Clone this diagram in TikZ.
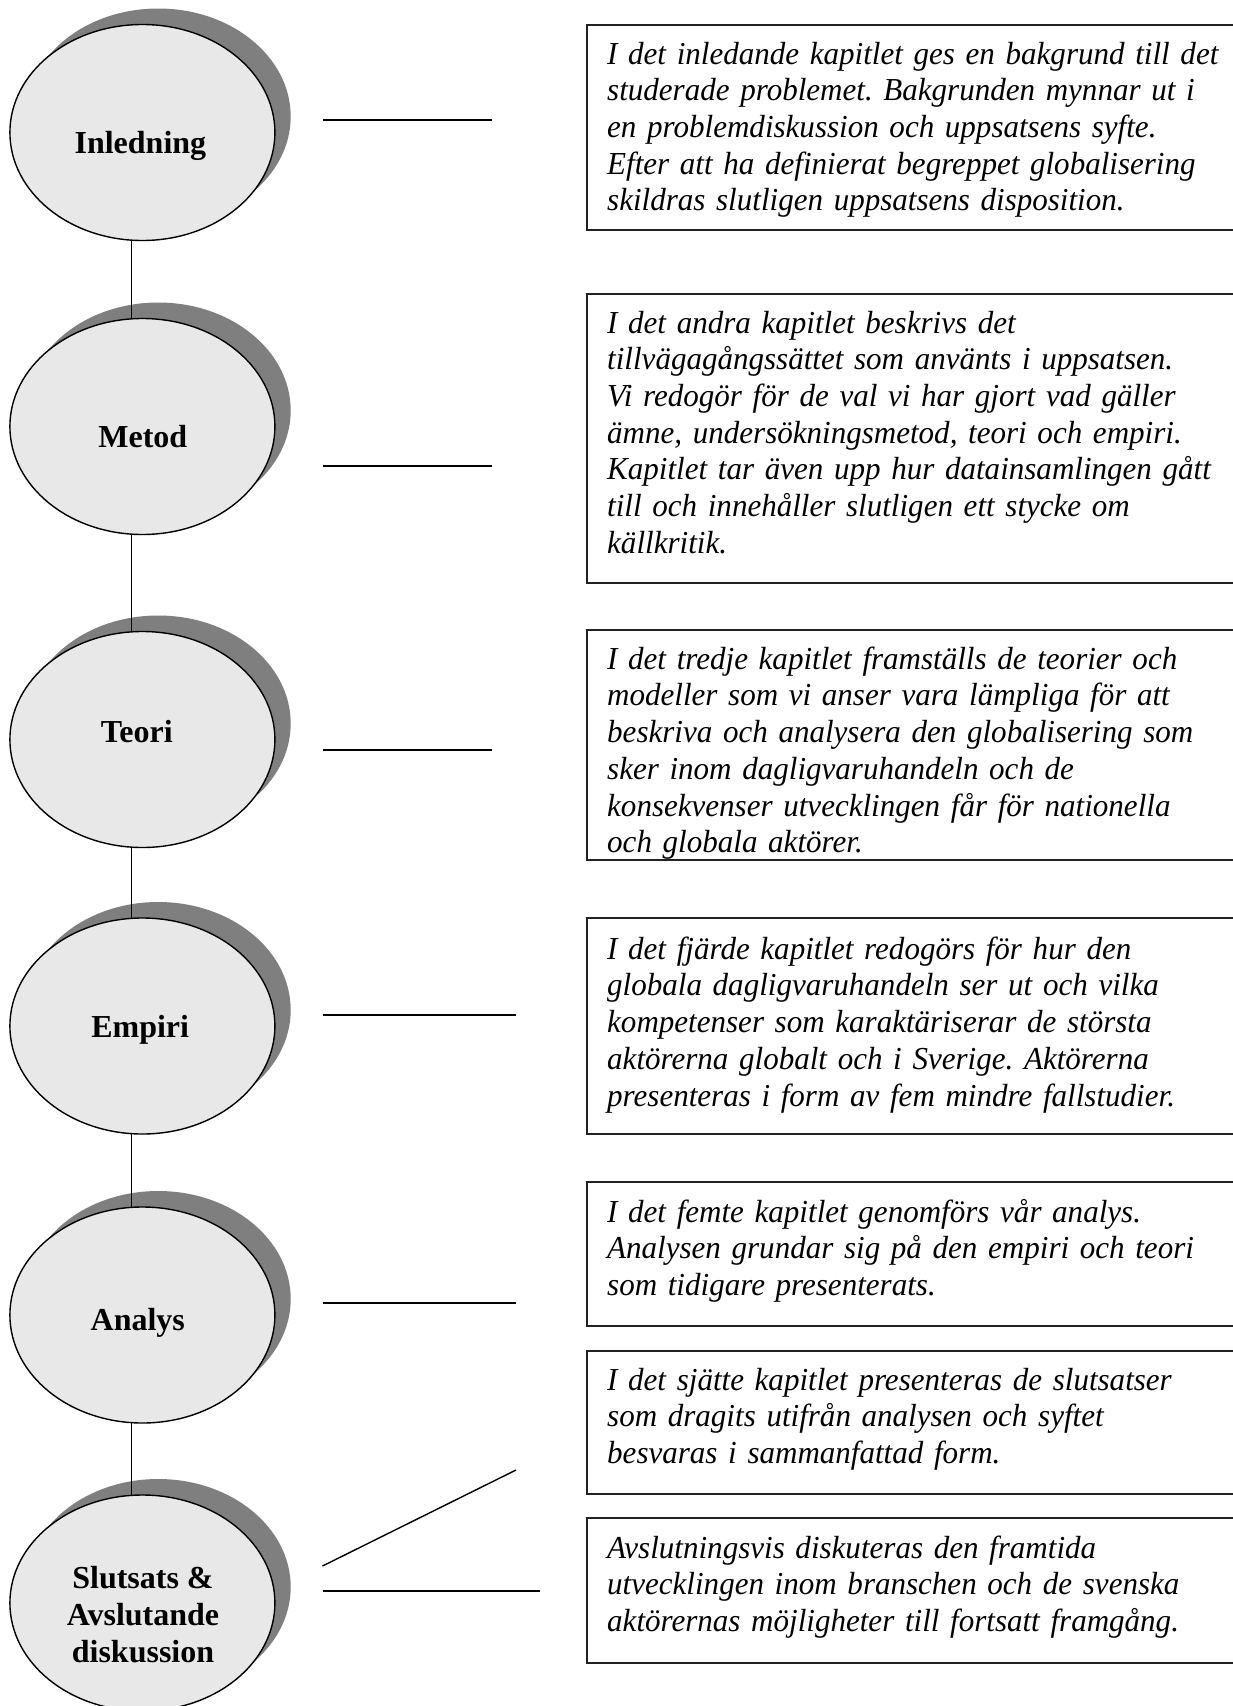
\documentclass[tikz,border=0pt]{standalone}
\usepackage{fontspec}
\newfontfamily\bodyfont{Liberation Serif}[FakeStretch=0.97]
\newfontfamily\labelfont{Liberation Serif}
\usetikzlibrary{shapes.geometric,shadows}
\definecolor{discfill}{HTML}{E8E8E8}
\definecolor{discshadow}{HTML}{7F7F7F}
\definecolor{boxline}{HTML}{222222}
\frenchspacing

\begin{document}
\begin{tikzpicture}[x=1pt,y=-1pt,
  chapter/.style={ellipse, draw=black, line width=1.4pt, fill=discfill,
    minimum width=265pt, minimum height=216pt, inner sep=0pt, outer sep=0pt,
    drop shadow={shadow xshift=15.8pt, shadow yshift=16pt, fill=discshadow, opacity=1}},
  chaplabel/.style={font=\labelfont\bfseries\fontsize{32}{37}\selectfont,
    inner sep=0pt, align=center},
  summary/.style={draw=boxline, line width=1.8pt, anchor=north west,
    minimum width=680pt, inner sep=0pt, outer sep=0pt},
  summarytext/.style={font=\bodyfont\itshape\fontsize{32}{36.7}\selectfont\frenchspacing,
    anchor=north west, inner sep=0pt, text width=640pt, align=left},
  link/.style={line width=1.4pt, draw=black}
]
\useasboundingbox (0,0) rectangle (1233,1706);
\fill[white] (0,0) rectangle (1233,1706);
\clip (0,0) rectangle (1233,1706);

% chapter discs
\node[chapter] (e1) at (142.4,132.5) {};
\node[chapter] (e2) at (142.4,426.5) {};
\node[chapter] (e3) at (142.4,739.5) {};
\node[chapter] (e4) at (142.4,1026) {};
\node[chapter] (e5) at (142.4,1315) {};
\node[chapter] (e6) at (142.4,1603) {};

\node[chaplabel, anchor=base] (n1) at (140.4,153) {Inledning};
\node[chaplabel, anchor=base] (n2) at (142.8,447) {Metod};
\node[chaplabel, anchor=base] (n3) at (136.8,742) {Teori};
\node[chaplabel, anchor=base] (n4) at (140.2,1037) {Empiri};
\node[chaplabel, anchor=base] (n5) at (137.8,1330) {Analys};
\node[chaplabel, anchor=north] (n6) at (143,1562) {\strut Slutsats \&\\Avslutande\\diskussion};

% spine joining the discs
\coordinate (spine) at (131.5,0);
\draw[link] (e1.south -| spine) -- (e2.north -| spine);
\draw[link] (e2.south -| spine) -- (e3.north -| spine);
\draw[link] (e3.south -| spine) -- (e4.north -| spine);
\draw[link] (e4.south -| spine) -- (e5.north -| spine);
\draw[link] (e5.south -| spine) -- (e6.north -| spine);

% summary boxes
\node[summary, minimum height=205pt] (b1) at (587,25) {};
\node[summary, minimum height=289pt] (b2) at (587,294) {};
\node[summary, minimum height=230pt] (b3) at (587,630) {};
\node[summary, minimum height=216pt] (b4) at (587,918) {};
\node[summary, minimum height=144pt] (b5) at (587,1182) {};
\node[summary, minimum height=143pt] (b6) at (587,1351) {};
\node[summary, minimum height=145pt] (b7) at (587,1518) {};

\node[summarytext] (s1) at ([xshift=20pt,yshift=-13.3pt]b1.north west) {\strut I det inledande kapitlet ges en bakgrund till det\\
studerade problemet. Bakgrunden mynnar ut i\\
en problemdiskussion och uppsatsens syfte.\\
Efter att ha definierat begreppet globalisering\\
skildras slutligen uppsatsens disposition.};

\node[summarytext] (s2) at ([xshift=20pt,yshift=-13.3pt]b2.north west) {\strut I det andra kapitlet beskrivs det\\
tillvägagångssättet som använts i uppsatsen.\\
Vi redogör för de val vi har gjort vad gäller\\
ämne, undersökningsmetod, teori och empiri.\\
Kapitlet tar även upp hur datainsamlingen gått\\
till och innehåller slutligen ett stycke om\\
källkritik.};

\node[summarytext] (s3) at ([xshift=20pt,yshift=-13.3pt]b3.north west) {\strut I det tredje kapitlet framställs de teorier och\\
modeller som vi anser vara lämpliga för att\\
beskriva och analysera den globalisering som\\
sker inom dagligvaruhandeln och de\\
konsekvenser utvecklingen får för nationella\\
och globala aktörer.};

\node[summarytext] (s4) at ([xshift=20pt,yshift=-15.3pt]b4.north west) {\strut I det fjärde kapitlet redogörs för hur den\\
globala dagligvaruhandeln ser ut och vilka\\
kompetenser som karaktäriserar de största\\
aktörerna globalt och i Sverige. Aktörerna\\
presenteras i form av fem mindre fallstudier.};

\node[summarytext] (s5) at ([xshift=20pt,yshift=-14.3pt]b5.north west) {\strut I det femte kapitlet genomförs vår analys.\\
Analysen grundar sig på den empiri och teori\\
som tidigare presenterats.};

\node[summarytext] (s6) at ([xshift=20pt,yshift=-13.3pt]b6.north west) {\strut I det sjätte kapitlet presenteras de slutsatser\\
som dragits utifrån analysen och syftet\\
besvaras i sammanfattad form.};

\node[summarytext] (s7) at ([xshift=20pt,yshift=-14.3pt]b7.north west) {\strut Avslutningsvis diskuteras den framtida\\
utvecklingen inom branschen och de svenska\\
aktörernas möjligheter till fortsatt framgång.};

% leader lines between discs and boxes
\coordinate (h1a) at (322.5,120);  \coordinate (h1b) at (492,120);
\coordinate (h2a) at (322.5,466);  \coordinate (h2b) at (492,466);
\coordinate (h3a) at (322.5,750);  \coordinate (h3b) at (492,750);
\coordinate (h4a) at (322.5,1015); \coordinate (h4b) at (516,1015);
\coordinate (h5a) at (322.5,1303); \coordinate (h5b) at (516,1303);
\coordinate (h6a) at (322.5,1566); \coordinate (h6b) at (516,1470);
\coordinate (h7a) at (322.5,1591); \coordinate (h7b) at (539.5,1591);
\draw[link] (h1a) -- (h1b);
\draw[link] (h2a) -- (h2b);
\draw[link] (h3a) -- (h3b);
\draw[link] (h4a) -- (h4b);
\draw[link] (h5a) -- (h5b);
\draw[link] (h6a) -- (h6b);
\draw[link] (h7a) -- (h7b);
\end{tikzpicture}
\end{document}
